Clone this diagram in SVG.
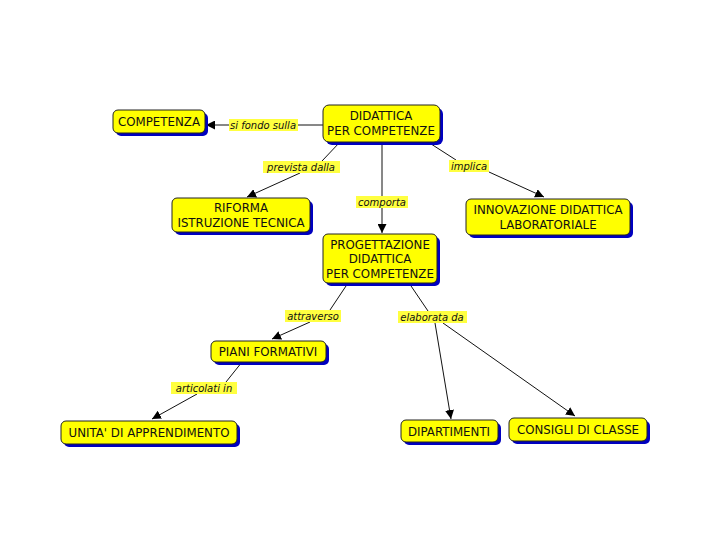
<svg xmlns="http://www.w3.org/2000/svg" width="720" height="540" viewBox="0 0 720 540">
<style>
.box{fill:#ffff00;stroke:#222;stroke-width:1}
.sh{fill:#0000c0}
.t{font-family:"DejaVu Sans",Verdana,sans-serif;font-size:11.8px;fill:#111;text-anchor:middle}
.lb{fill:#ffff40}
.lt{font-family:"DejaVu Sans",Verdana,sans-serif;font-size:10px;font-style:italic;fill:#111;text-anchor:middle}
.c{stroke:#111;stroke-width:1;fill:none}
</style>
<defs>
<marker id="ah" viewBox="0 0 10 10" refX="10" refY="5" markerWidth="9" markerHeight="9" markerUnits="userSpaceOnUse" orient="auto">
<path d="M0,0 L10,5 L0,10 z" fill="#000"/>
</marker>
</defs>
<rect width="720" height="540" fill="#fff"/>
<g id="connectors">
<line class="c" x1="323" y1="125" x2="298" y2="125"/>
<line class="c" x1="229" y1="125" x2="206" y2="125" marker-end="url(#ah)"/>
<line class="c" x1="340" y1="142" x2="322" y2="161"/>
<line class="c" x1="300" y1="173" x2="247" y2="197" marker-end="url(#ah)"/>
<line class="c" x1="382" y1="142" x2="382" y2="196"/>
<line class="c" x1="382" y1="208" x2="382" y2="233" marker-end="url(#ah)"/>
<line class="c" x1="428" y1="142" x2="456" y2="160"/>
<line class="c" x1="489" y1="172" x2="544" y2="197" marker-end="url(#ah)"/>
<line class="c" x1="348" y1="283" x2="330" y2="310"/>
<line class="c" x1="310" y1="322" x2="272" y2="339" marker-end="url(#ah)"/>
<line class="c" x1="409" y1="283" x2="428" y2="311"/>
<line class="c" x1="435" y1="323" x2="451" y2="419" marker-end="url(#ah)"/>
<line class="c" x1="443" y1="323" x2="575" y2="416" marker-end="url(#ah)"/>
<line class="c" x1="242" y1="362" x2="226" y2="382"/>
<line class="c" x1="197" y1="394" x2="152" y2="419" marker-end="url(#ah)"/>
</g>
<g id="lbl-sifonda"><rect class="lb" x="229" y="119" width="69" height="12"/><text class="lt" x="263" y="129">si fondo sulla</text></g>
<g id="lbl-prevista"><rect class="lb" x="263" y="161" width="77" height="12"/><text class="lt" x="301" y="171">prevista dalla</text></g>
<g id="lbl-implica"><rect class="lb" x="449" y="160" width="40" height="12"/><text class="lt" x="469" y="170">implica</text></g>
<g id="lbl-comporta"><rect class="lb" x="356" y="196" width="52" height="12"/><text class="lt" x="382" y="206">comporta</text></g>
<g id="lbl-attraverso"><rect class="lb" x="285" y="310" width="56" height="12"/><text class="lt" x="313" y="320">attraverso</text></g>
<g id="lbl-elaborata"><rect class="lb" x="398" y="311" width="69" height="12"/><text class="lt" x="432" y="321">elaborata da</text></g>
<g id="lbl-articolati"><rect class="lb" x="171" y="382" width="66" height="12"/><text class="lt" x="204" y="392">articolati in</text></g>
<g id="n-competenza"><rect class="sh" x="116" y="113" width="92" height="23" rx="5"/><rect class="box" x="113" y="110" width="92" height="23" rx="5"/><text class="t" x="159" y="126">COMPETENZA</text></g>
<g id="n-didattica"><rect class="sh" x="326" y="108" width="117" height="37" rx="6"/><rect class="box" x="323" y="105" width="117" height="37" rx="6"/><text class="t" x="381" y="120">DIDATTICA</text><text class="t" x="381" y="135">PER COMPETENZE</text></g>
<g id="n-riforma"><rect class="sh" x="175" y="201" width="138" height="34" rx="5"/><rect class="box" x="172" y="198" width="138" height="34" rx="5"/><text class="t" x="241" y="212">RIFORMA</text><text class="t" x="241" y="227">ISTRUZIONE TECNICA</text></g>
<g id="n-innovazione"><rect class="sh" x="469" y="202" width="164" height="36" rx="5"/><rect class="box" x="466" y="199" width="164" height="36" rx="5"/><text class="t" x="548" y="214">INNOVAZIONE DIDATTICA</text><text class="t" x="548" y="229">LABORATORIALE</text></g>
<g id="n-progettazione"><rect class="sh" x="326" y="237" width="114" height="49" rx="5"/><rect class="box" x="323" y="234" width="114" height="49" rx="5"/><text class="t" x="380" y="249">PROGETTAZIONE</text><text class="t" x="380" y="263">DIDATTICA</text><text class="t" x="380" y="278">PER COMPETENZE</text></g>
<g id="n-piani"><rect class="sh" x="214" y="344" width="115" height="21" rx="5"/><rect class="box" x="211" y="341" width="115" height="21" rx="5"/><text class="t" x="268" y="356">PIANI FORMATIVI</text></g>
<g id="n-unita"><rect class="sh" x="64" y="424" width="176" height="23" rx="5"/><rect class="box" x="61" y="421" width="176" height="23" rx="5"/><text class="t" x="149" y="437">UNITA' DI APPRENDIMENTO</text></g>
<g id="n-dipartimenti"><rect class="sh" x="404" y="423" width="97" height="22" rx="5"/><rect class="box" x="401" y="420" width="97" height="22" rx="5"/><text class="t" x="449" y="436">DIPARTIMENTI</text></g>
<g id="n-consigli"><rect class="sh" x="512" y="421" width="138" height="23" rx="5"/><rect class="box" x="509" y="418" width="138" height="23" rx="5"/><text class="t" x="578" y="434">CONSIGLI DI CLASSE</text></g>
</svg>
